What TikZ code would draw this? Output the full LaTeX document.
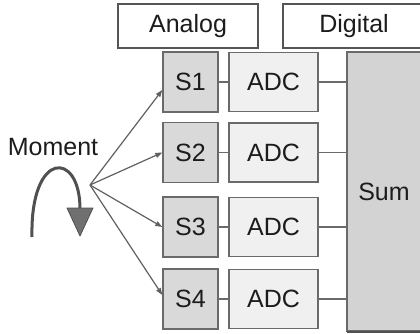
\documentclass[tikz,border=0pt]{standalone}
\usepackage{fontspec}
\setmainfont{Liberation Sans}
\usetikzlibrary{arrows.meta}
\definecolor{boxline}{HTML}{6A6A6A}
\definecolor{topline}{HTML}{555555}
\definecolor{sfill}{HTML}{D9D9D9}
\definecolor{adcfill}{HTML}{F0F0F0}
\definecolor{sumfill}{HTML}{D3D3D3}
\definecolor{txt}{HTML}{1C1C1C}
\definecolor{curvecol}{HTML}{505050}
\definecolor{tricol}{HTML}{707070}
\definecolor{arrcol}{HTML}{606060}
\begin{document}
\begin{tikzpicture}[x=1pt,y=-1pt,
  box/.style={draw=boxline, line width=1.4pt, inner sep=0pt, text=txt,
    font=\fontsize{25}{30}\selectfont},
  topbox/.style={box, draw=topline, fill=white, minimum height=44pt},
  sbox/.style={box, fill=sfill, minimum width=55pt, minimum height=60pt},
  adcbox/.style={box, fill=adcfill, minimum width=89pt, minimum height=59pt},
  link/.style={draw=boxline, line width=1.4pt},
  arr/.style={draw=arrcol, line width=1.2pt, -{Triangle[length=7pt,width=5pt]}},
  lbl/.style={text=txt, font=\fontsize{25}{30}\selectfont, inner sep=0pt}]
\useasboundingbox (0,0) rectangle (420,334);
% top headers
\node[topbox, minimum width=140pt] (analog) at (188,26) {Analog};
\node[topbox, minimum width=142pt] (digital) at (354,26) {Digital};
% sum box
\node[box, fill=sumfill, minimum width=74pt, minimum height=279pt] (sum) at (384,191.5) {Sum};
\draw[line width=2pt, draw=curvecol] (347,331.5) -- (421,331.5);
% sensor and ADC rows
\node[sbox] (s1) at (190.5,82) {S1};
\node[sbox] (s2) at (190.5,152.5) {S2};
\node[sbox] (s3) at (190.5,227) {S3};
\node[sbox] (s4) at (190.5,299) {S4};
\node[adcbox] (a1) at (273.5,82) {ADC};
\node[adcbox] (a2) at (273.5,152.5) {ADC};
\node[adcbox] (a3) at (273.5,227) {ADC};
\node[adcbox] (a4) at (273.5,299) {ADC};
\foreach \i in {1,2,3,4}{
  \draw[link] (s\i.east) -- (a\i.west);
  \draw[link] (a\i.east) -- (sum.west |- a\i.east);
}
% moment
\node[lbl] (moment) at (53,147) {Moment};
\draw[line width=3pt, draw=curvecol] (32,237) .. controls (30,150) and (80,150) .. (80,209);
\filldraw[fill=tricol, draw=curvecol, line width=0.8pt, line join=round] (67,208) -- (93,208) -- (80,236) -- cycle;
\coordinate (o) at (90,185);
\draw[arr] (o) -- ([yshift=-8pt]s1.west);
\draw[arr] (o) -- (s2.west);
\draw[arr] (o) -- (s3.west);
\draw[arr] (o) -- ([yshift=4pt]s4.west);
\end{tikzpicture}
\end{document}
